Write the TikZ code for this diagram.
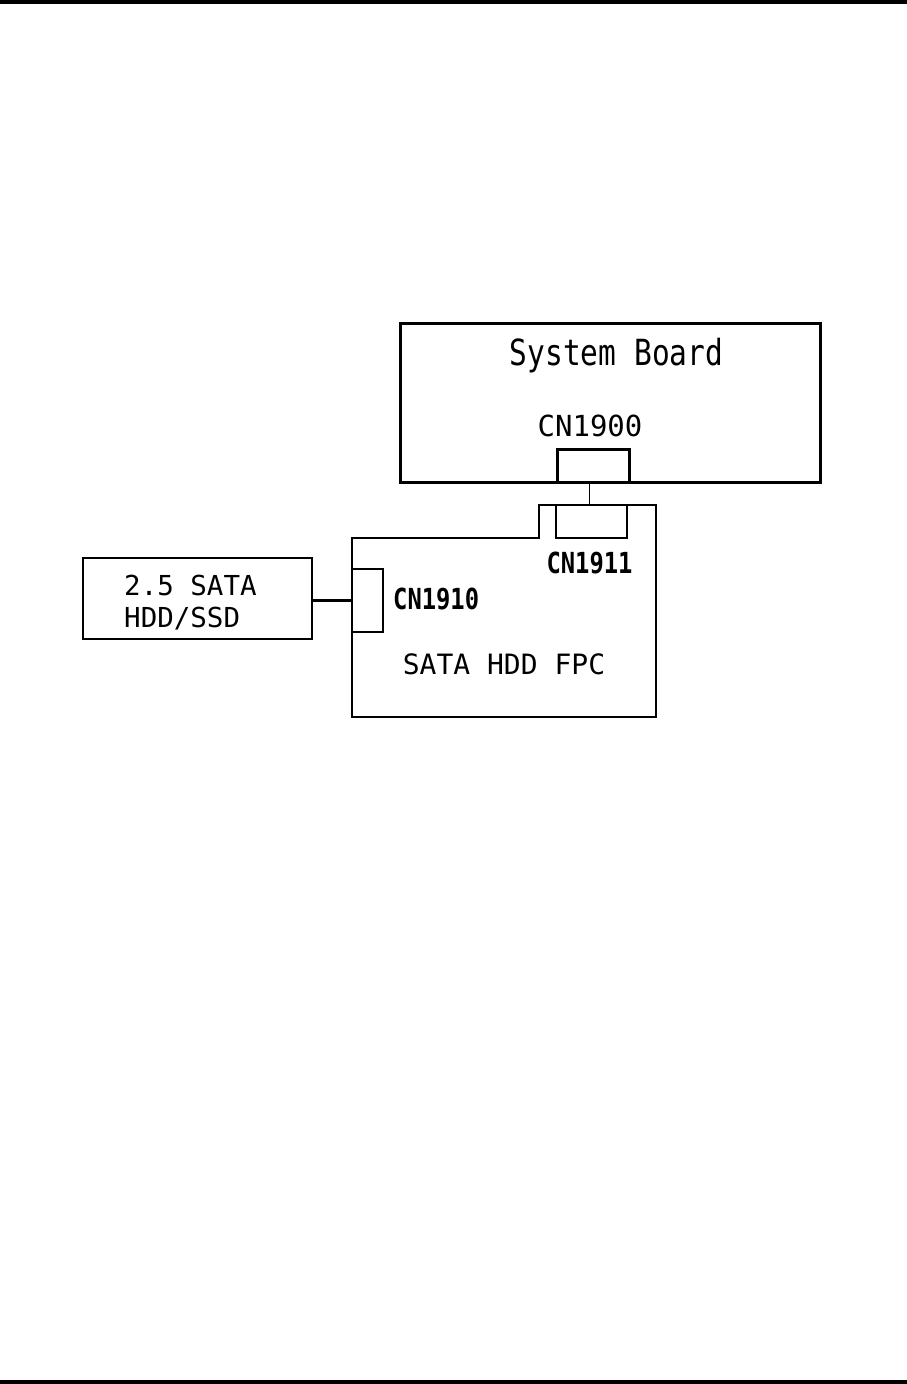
\documentclass[tikz,border=0pt]{standalone}
\usepackage{fontspec}
\newfontfamily\gothic{DejaVu Sans Mono}
\newfontfamily\gothicnarrow[FakeStretch=0.82]{DejaVu Sans Mono}

\begin{document}
\begin{tikzpicture}[x=1pt, y=-1pt,
  pcb/.style={draw, line width=3pt, inner sep=0pt},
  plug/.style={draw, line width=2.2pt, inner sep=0pt},
  label/.style={inner sep=0pt, anchor=base}]
  \useasboundingbox (0,0) rectangle (907,1384);
  % ── Page rules ──
  \fill (0,0) rectangle (907,4);
  \fill (0,1380) rectangle (907,1384);
  %
  % ── System board ──
  \node[pcb, minimum width=420, minimum height=159] (board) at (610,402.5) {};
  \node[label, font=\gothicnarrow\fontsize{36}{40}\selectfont] (boardname)
    at (616.5,365) {System Board};
  \node[label, font=\gothic\fontsize{29}{32}\selectfont] (cn1900name)
    at (590,436) {CN1900};
  \node[plug, line width=3pt, minimum width=72, minimum height=33] (cn1900)
    at (593,465.5) {};
  %
  % ── SATA HDD FPC (notched outline) ──
  \draw[line width=2.5pt] (352,538) -- (539,538) -- (539,505) -- (656,505)
    -- (656,717) -- (352,717) -- cycle;
  \node[plug, minimum width=71, minimum height=33] (cn1911) at (591.5,521.5) {};
  \node[label, font=\gothicnarrow\bfseries\fontsize{29}{32}\selectfont] (cn1911name)
    at (589.5,573) {CN1911};
  \node[plug, line width=2.5pt, minimum width=31, minimum height=63] (cn1910)
    at (367.5,600.5) {};
  \node[label, anchor=base west, font=\gothicnarrow\bfseries\fontsize{29}{32}\selectfont]
    (cn1910name) at (393,609) {CN1910};
  \node[label, font=\gothic\fontsize{28}{32}\selectfont] (fpcname)
    at (504,674) {SATA HDD FPC};
  %
  % ── Drive ──
  \node[plug, line width=2.5pt, minimum width=229, minimum height=81] (hdd)
    at (197.5,598.5) {};
  \node[label, anchor=base west, font=\gothic\fontsize{27.5}{32}\selectfont]
    (hddline1) at (124,595) {2.5 SATA};
  \node[label, anchor=base west, font=\gothic\fontsize{27.5}{32}\selectfont]
    (hddline2) at (124,627) {HDD/SSD};
  %
  % ── Cables ──
  \coordinate (link) at (589,505);
  \draw[line width=1pt] (cn1900.south -| link) -- (cn1911.north -| link);
  \draw[line width=3pt] (cn1910.west) -- (cn1910.west -| hdd.east);
\end{tikzpicture}
\end{document}
